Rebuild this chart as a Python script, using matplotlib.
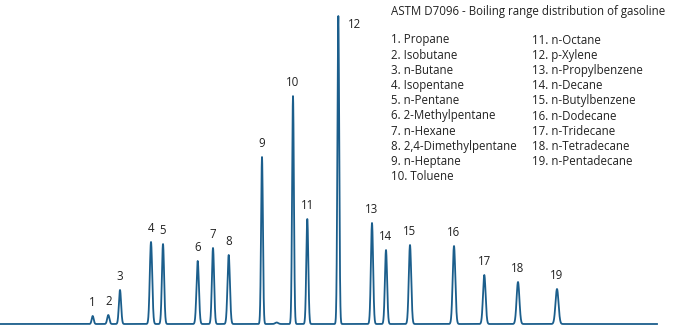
import numpy as np
import matplotlib.pyplot as plt

plt.rcParams['font.family'] = ['Open Sans', 'DejaVu Sans']

title = "ASTM D7096 - Boiling range distribution of gasoline"

compounds = ["Propane", "Isobutane", "n-Butane", "Isopentane", "n-Pentane",
             "2-Methylpentane", "n-Hexane", "2,4-Dimethylpentane", "n-Heptane",
             "Toluene", "n-Octane", "p-Xylene", "n-Propylbenzene", "n-Decane",
             "n-Butylbenzene", "n-Dodecane", "n-Tridecane", "n-Tetradecane",
             "n-Pentadecane"]

# retention position and peak height of each labelled compound
retention = [92.7, 108.3, 120.0, 151.0, 163.0, 197.7, 213.0, 228.7, 262.0,
             293.0, 307.3, 338.3, 372.0, 386.0, 410.0, 454.0, 484.3, 518.0, 557.0]
height = [8, 9, 34, 82, 80, 63, 76, 69, 167, 228, 105, 308, 101, 74, 79, 78, 49, 42, 35]
width = [1.0, 1.1, 1.1, 1.2, 1.1, 1.2, 1.1, 1.2, 0.9, 0.9, 1.0, 0.9, 1.1, 1.1, 1.2,
         1.3, 1.3, 1.4, 1.5]

# small unlabelled peak
minor_rt = [276.7]
minor_h = [1.5]
minor_w = [1.5]

t = np.linspace(0, 657, 8000)
signal = np.zeros_like(t)
for rt, h, w in zip(retention + minor_rt, height + minor_h, width + minor_w):
    signal += h * np.exp(-0.5 * ((t - rt) / w) ** 2)

fig = plt.figure(figsize=(6.79, 3.25), dpi=100)
ax = fig.add_axes([0, 0, 1, 1])
ax.plot(t, signal, color='#1b5e8c', lw=1.3)
ax.set_xlim(0, 679)
ax.set_ylim(-1, 324)
ax.axis('off')

fs = 8.3
for i, (rt, h) in enumerate(zip(retention, height)):
    if i == 11:
        ax.annotate(str(i + 1), (rt, h), xytext=(7, -6), textcoords='offset points',
                    ha='left', va='center', fontsize=fs, color='#222222')
    else:
        ax.annotate(str(i + 1), (rt, h), xytext=(0, 5), textcoords='offset points',
                    ha='center', va='bottom', fontsize=fs, color='#222222')

ax.text(391, 313, title, ha='left', va='center', fontsize=fs, color='#222222')
for i, name in enumerate(compounds):
    col, row = divmod(i, 10)
    x = 391 if col == 0 else 532
    ax.text(x, 284 - row * 15.2, f"{i + 1}. {name}", ha='left', va='center',
            fontsize=fs, color='#222222')

fig.savefig('out.png', dpi=100)
